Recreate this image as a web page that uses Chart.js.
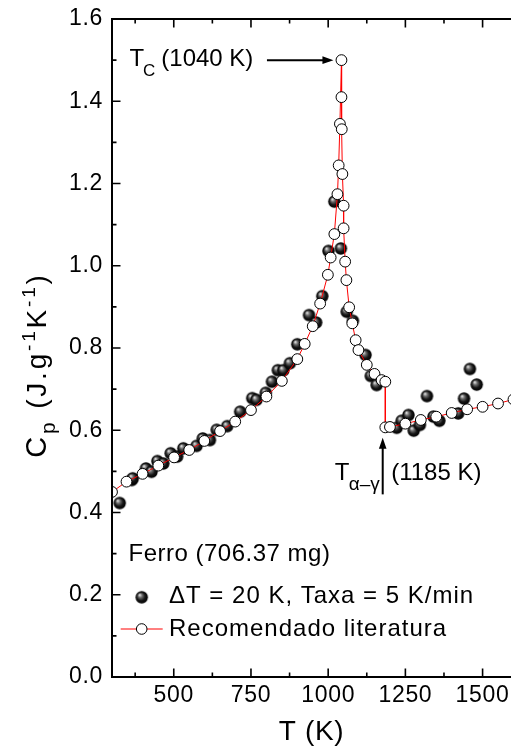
<!DOCTYPE html>
<html><head><meta charset="utf-8">
<script src="https://cdn.jsdelivr.net/npm/chart.js@4/dist/chart.umd.min.js"></script>
<style>html,body{margin:0;padding:0;background:#fff;overflow:hidden}#wrap{width:511px;height:747px}</style>
</head><body><div id="wrap"><canvas id="c" width="511" height="747"></canvas></div>
<script>
// ---- data ----
const litT  = [300, 347, 399, 450, 501, 550, 599, 650, 699, 750, 800, 850, 900, 924, 950, 974, 999, 1008, 1020, 1030, 1034, 1038, 1043, 1043, 1044, 1046, 1050, 1050, 1055, 1059, 1068, 1078, 1089, 1098, 1125, 1150, 1173, 1185, 1185, 1200, 1250, 1300, 1350, 1400, 1450, 1500, 1550, 1600];
const litCp = [0.450, 0.475, 0.494, 0.514, 0.534, 0.552, 0.574, 0.598, 0.621, 0.649, 0.682, 0.720, 0.773, 0.810, 0.853, 0.908, 0.978, 1.020, 1.077, 1.174, 1.244, 1.345, 1.500, 1.410, 1.332, 1.223, 1.146, 1.091, 1.010, 0.965, 0.899, 0.860, 0.819, 0.795, 0.759, 0.737, 0.722, 0.718, 0.607, 0.608, 0.616, 0.625, 0.633, 0.642, 0.651, 0.657, 0.665, 0.675];
const expT  = [325, 364, 367, 410, 428, 447, 466, 490, 511, 531, 574, 594, 617, 639, 673, 715, 754, 768, 798, 818, 837, 855, 876, 900, 938, 961, 981, 1001, 1020, 1041, 1060, 1080, 1121, 1138, 1157, 1222, 1238, 1260, 1277, 1297, 1320, 1341, 1360, 1421, 1440, 1459, 1481];
const expCp = [0.423, 0.479, 0.483, 0.507, 0.499, 0.525, 0.519, 0.544, 0.536, 0.556, 0.562, 0.580, 0.576, 0.601, 0.610, 0.645, 0.678, 0.674, 0.691, 0.718, 0.746, 0.746, 0.763, 0.809, 0.880, 0.862, 0.926, 1.036, 1.156, 1.042, 0.888, 0.866, 0.783, 0.732, 0.710, 0.606, 0.623, 0.637, 0.599, 0.613, 0.683, 0.633, 0.623, 0.641, 0.677, 0.749, 0.711];
const seriesLabels = ['\u0394T = 20 K, Taxa = 5 K/min', 'Recomendado literatura'];
const sampleLabel = 'Ferro (706.37 mg)';
const xMajorTicks = [500, 750, 1000, 1250, 1500];
const xMinorTicks = [375, 625, 875, 1125, 1375];
const yMajorTicks = [0, 0.2, 0.4, 0.6, 0.8, 1.0, 1.2, 1.4, 1.6];
const yMinorTicks = [0.1, 0.3, 0.5, 0.7, 0.9, 1.1, 1.3, 1.5];
const xTitle = 'T (K)';
const tcPoint = {T: 1043, Cp: 1.5, label: '(1040 K)'};
const tagPoint = {T: 1185, Cp: 0.607, label: '(1185 K)'};

const FONT = "'Liberation Sans', Arial, Helvetica, sans-serif";

// shaded sphere marker
function makeSphere(r) {
  const s = Math.ceil(r * 2 + 2);
  const cv = document.createElement('canvas');
  cv.width = s; cv.height = s;
  const g = cv.getContext('2d');
  const c = s / 2;
  const grd = g.createRadialGradient(c - r * 0.35, c - r * 0.4, r * 0.05, c, c, r);
  grd.addColorStop(0, '#e8e8e8');
  grd.addColorStop(0.3, '#6a6a6a');
  grd.addColorStop(0.65, '#151515');
  grd.addColorStop(1, '#000');
  g.fillStyle = grd;
  g.beginPath(); g.arc(c, c, r, 0, Math.PI * 2); g.fill();
  return cv;
}
const sphere = makeSphere(6.2);

const litData = litT.map((t, i) => ({x: t, y: litCp[i]}));
const expData = expT.map((t, i) => ({x: t, y: expCp[i]}));

function drawArrowHead(ctx, x, y, dir) {
  ctx.beginPath();
  if (dir === 'right') { ctx.moveTo(x, y); ctx.lineTo(x - 11, y - 3.8); ctx.lineTo(x - 11, y + 3.8); }
  else { ctx.moveTo(x, y); ctx.lineTo(x - 3.8, y + 11); ctx.lineTo(x + 3.8, y + 11); }
  ctx.closePath(); ctx.fill();
}

function text(ctx, str, x, y, size, ls) {
  ctx.font = size + 'px ' + FONT;
  try { ctx.letterSpacing = (ls || 0) + 'px'; } catch (e) {}
  ctx.fillText(str, x, y);
  return ctx.measureText(str).width;
}

const decor = {
  id: 'decor',
  beforeDraw(chart) {
    try { chart.ctx.letterSpacing = '0.7px'; } catch (e) {}
  },
  afterDraw(chart) {
    const ctx = chart.ctx;
    const xs = chart.scales.x, ys = chart.scales.y;
    const a = chart.chartArea;
    ctx.save();
    ctx.fillStyle = '#000'; ctx.strokeStyle = '#000';
    ctx.textAlign = 'left'; ctx.textBaseline = 'alphabetic';
    // frame
    ctx.lineWidth = 2;
    ctx.beginPath();
    ctx.moveTo(a.left, a.top); ctx.lineTo(a.right + 2, a.top);
    ctx.moveTo(a.left, a.top - 1); ctx.lineTo(a.left, a.bottom + 1);
    ctx.moveTo(a.left - 1, a.bottom); ctx.lineTo(a.right + 2, a.bottom);
    ctx.stroke();
    ctx.lineWidth = 1.6;
    ctx.beginPath();
    const tk = (list, len) => list.forEach(v => {
      const p = xs.getPixelForValue(v);
      ctx.moveTo(p, a.bottom); ctx.lineTo(p, a.bottom - len);
      ctx.moveTo(p, a.top); ctx.lineTo(p, a.top + len);
    });
    tk(xMajorTicks, 8.5); tk(xMinorTicks, 4.5);
    const tky = (list, len) => list.forEach(v => {
      const p = ys.getPixelForValue(v);
      ctx.moveTo(a.left, p); ctx.lineTo(a.left + len, p);
    });
    tky(yMajorTicks, 8.5); tky(yMinorTicks, 4.5);
    ctx.stroke();

    // Tc annotation
    const cx = xs.getPixelForValue(tcPoint.T), cy = ys.getPixelForValue(tcPoint.Cp);
    ctx.lineWidth = 2;
    ctx.beginPath(); ctx.moveTo(cx - 74.5, cy); ctx.lineTo(cx - 12, cy); ctx.stroke();
    drawArrowHead(ctx, cx - 8, cy, 'right');
    let x0 = a.left + 17.5;
    text(ctx, 'T', x0, cy + 5.8, 24, 0);
    text(ctx, 'C', x0 + 13.6, cy + 16, 17, 0);
    text(ctx, tcPoint.label, x0 + 31.8, cy + 5.8, 24, 0);

    // alpha-gamma annotation
    const gx = xs.getPixelForValue(tagPoint.T) - 2.6, gy = ys.getPixelForValue(tagPoint.Cp);
    ctx.beginPath(); ctx.moveTo(gx, gy + 18); ctx.lineTo(gx, gy + 67); ctx.stroke();
    drawArrowHead(ctx, gx, gy + 10.5, 'up');
    text(ctx, 'T', gx - 48, gy + 53, 24, 0);
    text(ctx, '\u03b1\u2013\u03b3', gx - 34, gy + 63, 19, 0);
    text(ctx, tagPoint.label, gx + 8.5, gy + 53, 24, 0);

    // sample label and legend
    const ly0 = ys.getPixelForValue(0);
    text(ctx, sampleLabel, a.left + 16.5, ly0 - 116, 24, 0.5);
    const mx = a.left + 29.7;
    const r1 = ly0 - 79.7, r2 = ly0 - 48;
    ctx.drawImage(sphere, mx - sphere.width / 2, r1 - sphere.height / 2);
    text(ctx, chart.data.datasets[1].label, a.left + 57, r1 + 6, 24, 1);
    ctx.strokeStyle = '#ff0000'; ctx.lineWidth = 1;
    ctx.beginPath(); ctx.moveTo(a.left + 8.7, r2); ctx.lineTo(a.left + 50.7, r2); ctx.stroke();
    ctx.fillStyle = '#fff'; ctx.strokeStyle = '#000'; ctx.lineWidth = 1;
    ctx.beginPath(); ctx.arc(mx, r2, 5.3, 0, Math.PI * 2); ctx.fill(); ctx.stroke();
    ctx.fillStyle = '#000';
    text(ctx, chart.data.datasets[0].label, a.left + 57, r2 + 7, 24, 1);

    // y axis title with sub/superscripts
    ctx.save();
    const segs = [
      {t: 'C', s: 29, dy: 0},
      {t: 'p', s: 21, dy: 9},
      {t: ' (J.g', s: 28, dy: 0},
      {t: '-1', s: 19, dy: -11},
      {t: 'K', s: 28, dy: 0},
      {t: '-1', s: 19, dy: -11},
      {t: ')', s: 28, dy: 0}
    ];
    const LS = 2.8;
    let total = 0;
    segs.forEach(sg => { ctx.font = sg.s + 'px ' + FONT; try { ctx.letterSpacing = LS + 'px'; } catch (e) {} sg.w = ctx.measureText(sg.t).width; total += sg.w; });
    ctx.translate(46, 365);
    ctx.rotate(-Math.PI / 2);
    let px = -total / 2;
    segs.forEach(sg => { text(ctx, sg.t, px, sg.dy, sg.s, LS); px += sg.w; });
    ctx.restore();
    ctx.restore();
  }
};

new Chart(document.getElementById('c'), {
  type: 'scatter',
  data: {
    datasets: [
      {
        label: seriesLabels[1], data: litData, showLine: true,
        borderColor: '#ff0000', borderWidth: 1,
        pointStyle: 'circle', pointRadius: 5.4, pointBackgroundColor: '#ffffff',
        pointBorderColor: '#000000', pointBorderWidth: 1, clip: 0
      },
      {
        label: seriesLabels[0], data: expData, showLine: false,
        pointStyle: sphere, pointRadius: 6, clip: 0
      }
    ]
  },
  options: {
    responsive: false, animation: false, devicePixelRatio: 1,
    layout: {autoPadding: false, padding: {top: 19, left: 0, right: 0, bottom: 0}},
    plugins: {legend: {display: false}, tooltip: {enabled: false}},
    scales: {
      x: {
        type: 'linear', min: 300, max: 1592,
        grid: {display: false, drawTicks: false}, border: {display: false},
        afterBuildTicks: s => { s.ticks = xMajorTicks.map(v => ({value: v})); },
        afterFit: s => { s.height = 70; s.paddingLeft = 0; s.paddingRight = 0; s.paddingTop = 0; s.paddingBottom = 0; },
        ticks: {color: '#000', padding: 4.5, maxRotation: 0, autoSkip: false, font: {family: FONT, size: 23}, callback: v => String(v)},
        title: {display: true, text: xTitle, color: '#000', font: {family: FONT, size: 28, lineHeight: 1}, padding: {top: 0, bottom: 1}}
      },
      y: {
        type: 'linear', min: 0, max: 1.6,
        grid: {display: false, drawTicks: false}, border: {display: false},
        afterBuildTicks: s => { s.ticks = yMajorTicks.map(v => ({value: v})); },
        afterFit: s => { s.width = 112; s.paddingLeft = 0; s.paddingRight = 0; s.paddingTop = 0; s.paddingBottom = 0; },
        ticks: {color: '#000', padding: 9, font: {family: FONT, size: 23}, callback: v => Number(v).toFixed(1)}
      }
    }
  },
  plugins: [decor]
});
</script></body></html>
